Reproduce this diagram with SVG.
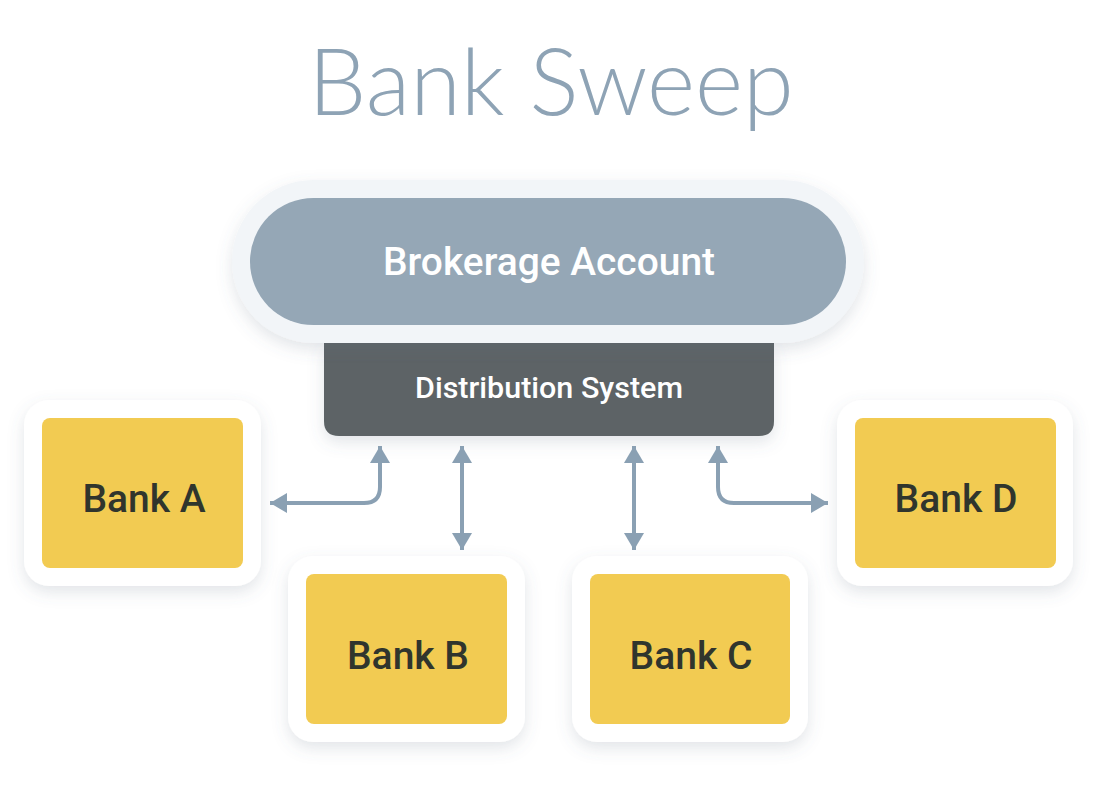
<svg xmlns="http://www.w3.org/2000/svg" width="1098" height="812" viewBox="0 0 1098 812">
<style>
.title{font-family:Lato,"Open Sans","Liberation Sans",sans-serif;font-weight:300;font-size:92px;fill:#8ea3b5}
.card{fill:#ffffff;filter:url(#sh)}
.bank{fill:#f2cb52}
.bt{font-family:Roboto,"Liberation Sans",sans-serif;font-weight:500;font-size:39px;fill:#30352d;text-anchor:middle}
.wt{font-family:Roboto,"Liberation Sans",sans-serif;font-weight:500;fill:#ffffff;text-anchor:middle}
.con{fill:none;stroke:#8aa0b3;stroke-width:4}
</style>
<defs>
<filter id="sh" x="-20%" y="-20%" width="140%" height="150%">
<feDropShadow dx="0" dy="6" stdDeviation="8" flood-color="#5a6f80" flood-opacity="0.18"/>
</filter>
<marker id="ah" viewBox="0 0 17 20" refX="17" refY="10" markerWidth="17" markerHeight="20" markerUnits="userSpaceOnUse" orient="auto-start-reverse">
<path d="M0,0 L17,10 L0,20 Z" fill="#8aa0b3"/>
</marker>
</defs>
<rect width="1098" height="812" fill="#ffffff"/>
<text class="title" x="551" y="115" text-anchor="middle">Bank Sweep</text>

<g id="distribution">
<path d="M324,343 H774 V421 Q774,436 759,436 H339 Q324,436 324,421 Z" fill="#5d6466" filter="url(#sh)"/>
<text class="wt" x="549" y="398" font-size="29" textLength="268" lengthAdjust="spacingAndGlyphs">Distribution System</text>
</g>

<g id="brokerage">
<rect x="232" y="180" width="632" height="163" rx="81.5" fill="#f2f5f8" filter="url(#sh)"/>
<rect x="250" y="198" width="596" height="127" rx="63.5" fill="#95a7b6"/>
<text class="wt" x="549" y="275" font-size="39" textLength="332" lengthAdjust="spacingAndGlyphs">Brokerage Account</text>
</g>

<g id="bankA">
<rect class="card" x="24" y="400" width="237" height="186" rx="25"/>
<rect class="bank" x="42" y="418" width="201" height="150" rx="8"/>
<text class="bt" x="144" y="512">Bank A</text>
</g>
<g id="bankB">
<rect class="card" x="288" y="556" width="237" height="186" rx="25"/>
<rect class="bank" x="306" y="574" width="201" height="150" rx="8"/>
<text class="bt" x="408" y="669">Bank B</text>
</g>
<g id="bankC">
<rect class="card" x="572" y="556" width="236" height="186" rx="25"/>
<rect class="bank" x="590" y="574" width="200" height="150" rx="8"/>
<text class="bt" x="691" y="669">Bank C</text>
</g>
<g id="bankD">
<rect class="card" x="837" y="400" width="236" height="186" rx="25"/>
<rect class="bank" x="855" y="418" width="201" height="150" rx="8"/>
<text class="bt" x="956" y="512">Bank D</text>
</g>

<g id="connectors">
<path class="con" d="M270,503 H364 Q380,503 380,487 V446" marker-start="url(#ah)" marker-end="url(#ah)"/>
<path class="con" d="M462,446 V550" marker-start="url(#ah)" marker-end="url(#ah)"/>
<path class="con" d="M634,446 V550" marker-start="url(#ah)" marker-end="url(#ah)"/>
<path class="con" d="M718,446 V487 Q718,503 734,503 H828" marker-start="url(#ah)" marker-end="url(#ah)"/>
</g>
</svg>
